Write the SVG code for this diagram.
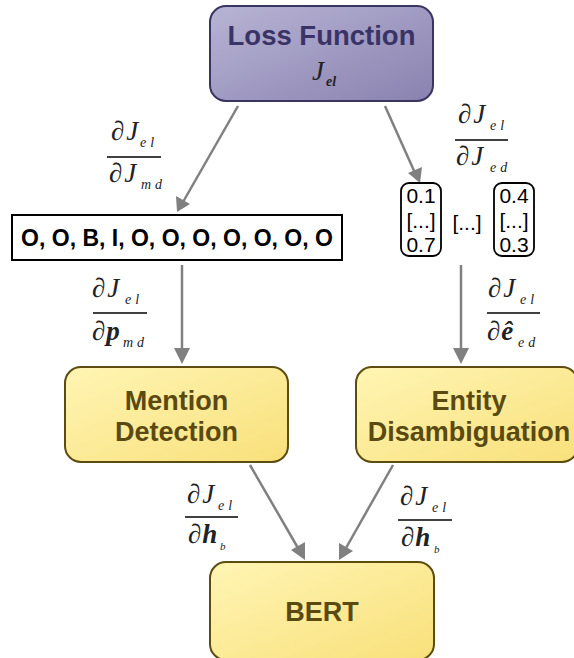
<svg xmlns="http://www.w3.org/2000/svg" width="574" height="658" viewBox="0 0 574 658">
<style>
.lbl{font-family:"Liberation Sans",Arial,sans-serif;font-weight:bold;text-anchor:middle}
.y{fill:#5a4a12;font-size:27px}
.m{font-family:"Liberation Serif","DejaVu Serif",serif;font-style:italic;fill:#222}
.n{font-size:27px}
.s{font-size:14px;letter-spacing:4px}
.b{font-weight:bold;font-style:italic}
.conn{stroke:#808080;stroke-width:2.5;fill:none}
.fl{stroke:#000;stroke-width:1.3}
.v{font-family:"Liberation Sans",Arial,sans-serif;font-size:21px;fill:#000;text-anchor:middle}
</style>
<defs>
<linearGradient id="gp" x1="0" y1="0" x2="1" y2="1">
<stop offset="0" stop-color="#b8b4d4"/><stop offset="1" stop-color="#8982b0"/>
</linearGradient>
<linearGradient id="gy" x1="0" y1="0" x2="1" y2="1">
<stop offset="0" stop-color="#fff5b4"/><stop offset="1" stop-color="#f8e07a"/>
</linearGradient>
</defs>
<g id="connectors">
<line class="conn" x1="238" y1="106" x2="183" y2="202"/>
<path d="M177,212 L176,196 L190,204 Z" fill="#808080"/>
<line class="conn" x1="385" y1="106" x2="415" y2="173"/>
<path d="M420,183 L408,173 L422,167 Z" fill="#808080"/>
<line class="conn" x1="182" y1="265" x2="182" y2="350"/>
<path d="M182,364 L174,348 L190,348 Z" fill="#808080"/>
<line class="conn" x1="461" y1="265" x2="461" y2="350"/>
<path d="M461,364 L453,348 L469,348 Z" fill="#808080"/>
<line class="conn" x1="250" y1="465" x2="298" y2="548"/>
<path d="M305,560 L291,550 L305,542 Z" fill="#808080"/>
<line class="conn" x1="393" y1="465" x2="346" y2="548"/>
<path d="M339,560 L339,543 L353,551 Z" fill="#808080"/>
</g>
<g id="loss">
<rect x="210" y="6" width="223" height="95" rx="16" fill="url(#gp)" stroke="#3a3460" stroke-width="2"/>
<text class="lbl" x="321.5" y="45" font-size="27.5" fill="#3a3366">Loss Function</text>
<text class="m" x="312" y="80" font-size="27" fill="#1e1a40">J</text>
<text class="m b" x="326" y="86" font-size="14" fill="#1e1a40">el</text>
</g>
<g id="frac-jmd">
<text class="m n" x="111" y="140">∂<tspan dx="2">J</tspan></text>
<text class="m s" x="140" y="147">el</text>
<line class="fl" x1="107" y1="157" x2="161" y2="157"/>
<text class="m n" x="109" y="182">∂<tspan dx="2">J</tspan></text>
<text class="m s" x="141" y="189">md</text>
</g>
<g id="frac-jed">
<text class="m n" x="458" y="123">∂<tspan dx="2">J</tspan></text>
<text class="m s" x="490" y="130">el</text>
<line class="fl" x1="455" y1="140" x2="508" y2="140"/>
<text class="m n" x="456" y="165">∂<tspan dx="2">J</tspan></text>
<text class="m s" x="490" y="172">ed</text>
</g>
<g id="sequence">
<rect x="12" y="215" width="330" height="45" fill="#fff" stroke="#000" stroke-width="2"/>
<text class="lbl" x="177" y="246" font-size="23" fill="#000">O, O, B, I, O, O, O, O, O, O, O</text>
</g>
<g id="vectors">
<rect x="401" y="183" width="40" height="73" rx="8" fill="#fff" stroke="#000" stroke-width="1.8"/>
<text class="v" x="421" y="203">0.1</text>
<text class="v" x="421" y="227.5">[...]</text>
<text class="v" x="421" y="252">0.7</text>
<text class="v" x="467" y="230">[...]</text>
<rect x="494" y="183" width="40" height="73" rx="8" fill="#fff" stroke="#000" stroke-width="1.8"/>
<text class="v" x="514" y="203">0.4</text>
<text class="v" x="514" y="227.5">[...]</text>
<text class="v" x="514" y="252">0.3</text>
</g>
<g id="frac-pmd">
<text class="m n" x="92" y="297">∂<tspan dx="2">J</tspan></text>
<text class="m s" x="125" y="304">el</text>
<line class="fl" x1="93" y1="313" x2="147" y2="313"/>
<text class="m n" x="92" y="340">∂<tspan dx="1" class="b">p</tspan></text>
<text class="m s" x="123" y="347">md</text>
</g>
<g id="frac-eed">
<text class="m n" x="488" y="297">∂<tspan dx="2">J</tspan></text>
<text class="m s" x="520" y="304">el</text>
<line class="fl" x1="487" y1="313" x2="540" y2="313"/>
<text class="m n" x="487" y="340">∂<tspan dx="1" class="b">ê</tspan></text>
<text class="m s" x="518" y="347">ed</text>
</g>
<g id="mention">
<rect x="65" y="367" width="223" height="95" rx="16" fill="url(#gy)" stroke="#5c4c10" stroke-width="2"/>
<text class="lbl y" x="176.5" y="410">Mention</text>
<text class="lbl y" x="176.5" y="441">Detection</text>
</g>
<g id="entity">
<rect x="356" y="367" width="222" height="95" rx="16" fill="url(#gy)" stroke="#5c4c10" stroke-width="2"/>
<text class="lbl y" x="469" y="410">Entity</text>
<text class="lbl y" x="469" y="441">Disambiguation</text>
</g>
<g id="frac-hb-l">
<text class="m n" x="187" y="503">∂<tspan dx="2">J</tspan></text>
<text class="m s" x="218" y="510">el</text>
<line class="fl" x1="185" y1="517" x2="238" y2="517"/>
<text class="m n" x="188" y="543">∂<tspan dx="1" class="b">h</tspan></text>
<text class="m" x="220" y="550" font-size="11">b</text>
</g>
<g id="frac-hb-r">
<text class="m n" x="400" y="505">∂<tspan dx="2">J</tspan></text>
<text class="m s" x="432" y="512">el</text>
<line class="fl" x1="398" y1="520" x2="452" y2="520"/>
<text class="m n" x="401" y="546">∂<tspan dx="1" class="b">h</tspan></text>
<text class="m" x="434" y="553" font-size="11">b</text>
</g>
<g id="bert">
<rect x="210" y="562" width="224" height="98" rx="16" fill="url(#gy)" stroke="#5c4c10" stroke-width="2"/>
<text class="lbl y" x="322" y="621">BERT</text>
</g>
</svg>
